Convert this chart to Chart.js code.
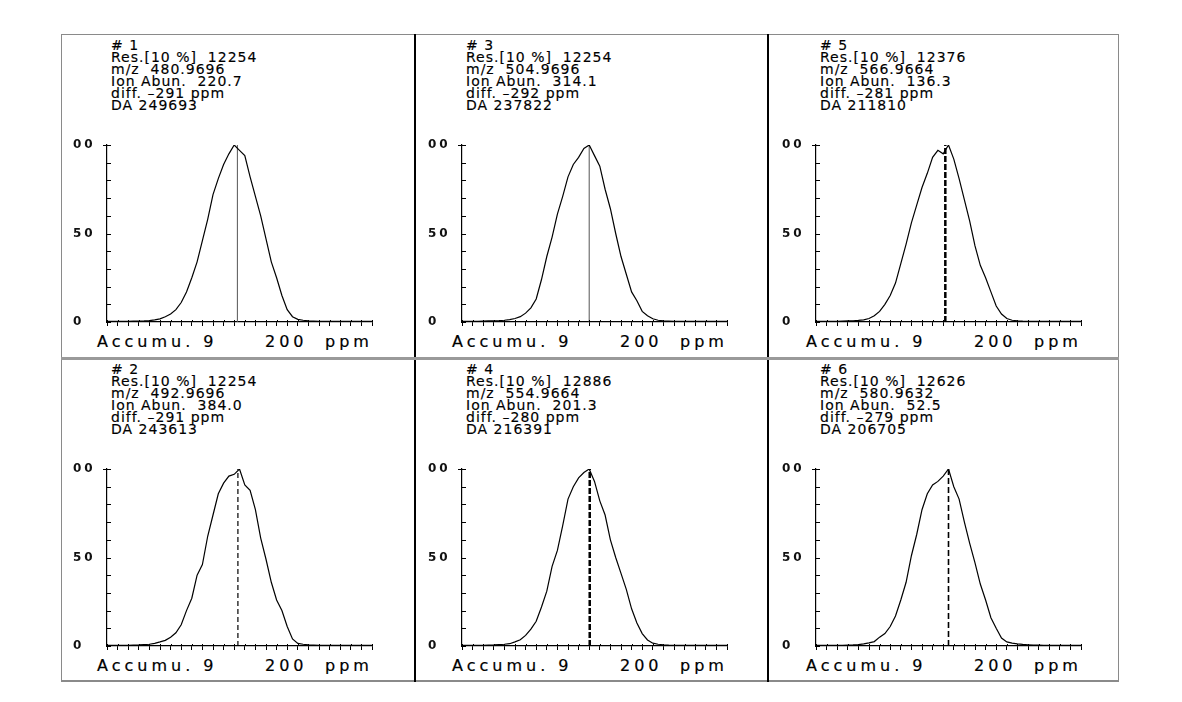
<!DOCTYPE html>
<html>
<head>
<meta charset="utf-8">
<script src="https://cdn.jsdelivr.net/npm/chart.js@4.4.0/dist/chart.umd.min.js"></script>
<style>
  html, body { margin: 0; padding: 0; background: #fff; }
  body { width: 1182px; height: 702px; position: relative; overflow: hidden; font-family: "DejaVu Sans", sans-serif; color: #000; }
  #frame { position: absolute; left: 61px; top: 34px; width: 1058px; height: 648px; box-sizing: border-box;
           border: 1px solid #8a8a8a; border-bottom: 2px solid #8a8a8a; }
  .vdiv { position: absolute; top: 34px; width: 2px; height: 648px; background: #000; }
  .hdiv { position: absolute; left: 61px; top: 357px; width: 1058px; height: 3px; background: #9a9a9a; }
  .line { position: absolute; font-size: 14px; letter-spacing: 1px; line-height: 14px; white-space: pre; -webkit-text-stroke: 0.15px #000; }
  .foot { position: absolute; font-size: 16px; letter-spacing: 4px; line-height: 18px; white-space: pre; -webkit-text-stroke: 0.2px #000; }
  canvas { position: absolute; }
</style>
</head>
<body>
<div id="frame"></div>
<div class="vdiv" style="left:414px"></div>
<div class="vdiv" style="left:767px"></div>
<div class="hdiv"></div>

<script>
// ===== Data (panels #1 .. #6) =====
const xPpm = [-250, -240, -230, -220, -210, -200, -190, -180, -170, -160, -150, -140, -130, -120, -110, -100,
  -90, -80, -70, -60, -50, -40, -30, -20, -10, 0, 10, 20, 30, 40, 50, 60, 70, 80, 90, 100, 110, 120, 130,
  140, 150, 160, 170, 180, 190, 200, 210, 220, 230, 240, 250];

const xTicks = [-250, -230, -210, -190, -170, -150, -130, -110, -90, -70, -50, -30, -10, 10, 30, 50, 70, 90,
  110, 130, 150, 170, 190, 210, 230, 250];
const yTicks = [0, 10, 20, 30, 40, 50, 60, 70, 80, 90, 100];
const yLabels = ['0', '', '', '', '', '50', '', '', '', '', '00'];

const abun1 = [0.3, 0.3, 0.3, 0.4, 0.4, 0.5, 0.5, 0.6, 0.8, 1.2, 1.8, 3, 4.5, 7, 11, 17, 25, 34, 46, 58, 72, 81, 89, 95,
  100, 97, 94, 82, 71, 60, 47, 34, 25, 15, 7, 3, 1.5, 1, 0.6, 0.5, 0.4, 0.3, 0.3, 0.3, 0.3, 0.3, 0.3, 0.3, 0.3, 0.3, 0.3];
const abun2 = [0.3, 0.3, 0.3, 0.3, 0.4, 0.5, 0.6, 0.8, 1, 1.5, 2.3, 3.2, 5, 7.5, 12, 20, 27, 40, 46, 62, 74, 86, 92, 96,
  97, 100, 91, 88, 77, 61, 49, 36, 26, 20, 11, 4, 1.5, 1, 0.6, 0.5, 0.4, 0.3, 0.3, 0.3, 0.3, 0.3, 0.3, 0.3, 0.3, 0.3, 0.3];
const abun3 = [0.3, 0.3, 0.4, 0.4, 0.5, 0.6, 0.7, 0.8, 1.0, 1.3, 2, 3, 5, 8, 13, 24, 37, 48, 61, 71, 82, 89, 93, 98,
  100, 94, 88, 75, 64, 50, 37, 27, 17, 12, 6, 3.5, 1.8, 1, 0.6, 0.5, 0.4, 0.4, 0.3, 0.3, 0.3, 0.3, 0.3, 0.3, 0.3, 0.3, 0.3];
const abun4 = [0.3, 0.3, 0.3, 0.4, 0.4, 0.5, 0.6, 0.8, 1.0, 1.3, 2.3, 3.5, 6, 9.5, 14, 22, 31, 45, 54, 68, 83, 90, 95, 98,
  100, 93, 82, 74, 60, 50, 41, 32, 21, 13, 7, 3.4, 1.6, 1, 0.7, 0.5, 0.4, 0.4, 0.3, 0.3, 0.3, 0.3, 0.3, 0.3, 0.3, 0.3, 0.3];
const abun5 = [0.3, 0.3, 0.3, 0.4, 0.4, 0.5, 0.6, 0.7, 0.9, 1.2, 2, 3.5, 6, 10, 15, 22, 33, 44, 56, 66, 76, 84, 93, 97,
  95, 100, 92, 81, 69, 57, 43, 32, 25, 17, 9, 4.5, 2, 1, 0.7, 0.5, 0.4, 0.4, 0.3, 0.3, 0.3, 0.3, 0.3, 0.3, 0.3, 0.3, 0.3];
const abun6 = [0.3, 0.3, 0.3, 0.3, 0.4, 0.4, 0.5, 0.6, 0.8, 1.2, 1.8, 2.5, 5, 7, 11, 17, 26, 36, 51, 63, 77, 86, 91, 93,
  96, 100, 90, 83, 70, 58, 47, 35, 26, 16, 10, 4.5, 2.3, 1.6, 1.2, 0.9, 0.7, 0.5, 0.5, 0.4, 0.4, 0.4, 0.3, 0.3, 0.3, 0.3, 0.3];

const markerPpm = [-4, -3, -10, -9, -6, 0];

const resValues = ['12254', '12254', '12254', '12886', '12376', '12626'];
const mzValues = ['480.9696', '492.9696', '504.9696', '554.9664', '566.9664', '580.9632'];
const ionAbun = ['220.7', '384.0', '314.1', '201.3', '136.3', '52.5'];
const diffPpm = ['–291', '–291', '–292', '–280', '–281', '–279'];
const daValues = ['249693', '243613', '237822', '216391', '211810', '206705'];
const accumu = 9;
const spanPpm = 200;

const series = [abun1, abun2, abun3, abun4, abun5, abun6];

// ===== Layout =====
const axisX = [107, 462, 816];
const panelTop = [34, 358];
const yScaleW = 34;
const markerStyle = [
  { color: '#555', width: 1, dash: [] },
  { color: '#000', width: 1.2, dash: [5, 3] },
  { color: '#555', width: 1, dash: [] },
  { color: '#000', width: 2.5, dash: [6, 2] },
  { color: '#000', width: 2.5, dash: [6, 2] },
  { color: '#000', width: 1.6, dash: [6, 3] }
];

// ticks on the inside of the y axis, small stubs above the x axis, spaced labels
const axisTicks = {
  id: 'axisTicks',
  beforeDraw(chart) { chart.ctx.letterSpacing = '3px'; },
  afterDraw(chart) {
    const y = chart.scales.y, x = chart.scales.x, ctx = chart.ctx, area = chart.chartArea;
    ctx.save();
    ctx.letterSpacing = '0px';
    ctx.strokeStyle = '#000';
    ctx.lineWidth = 1;
    y.ticks.forEach(t => {
      const py = Math.round(y.getPixelForValue(t.value)) + 0.5;
      ctx.beginPath();
      ctx.moveTo(area.left - (t.value === 100 ? 4 : 0), py);
      ctx.lineTo(area.left + 4, py);
      ctx.stroke();
    });
    x.ticks.forEach(t => {
      const px = Math.round(x.getPixelForValue(t.value)) + 0.5;
      ctx.beginPath();
      ctx.moveTo(px, area.bottom - 2);
      ctx.lineTo(px, area.bottom);
      ctx.stroke();
    });
    ctx.restore();
  }
};

function addText(cls, text, left, top) {
  const d = document.createElement('div');
  d.className = cls;
  d.textContent = text;
  d.style.left = left + 'px';
  d.style.top = top + 'px';
  document.body.appendChild(d);
}

for (let n = 1; n <= 6; n++) {
  const i = n - 1;
  const col = Math.floor(i / 2), row = i % 2;
  const P = panelTop[row];
  const ax = axisX[col];
  const tx = ax + 4;

  // ===== Header text =====
  const lh = 12, t0 = P + 4;
  addText('line', '# ' + n, tx, t0);
  addText('line', 'Res.[10 %]  ' + resValues[i], tx, t0 + lh);
  addText('line', 'm/z  ' + mzValues[i], tx, t0 + 2 * lh);
  addText('line', 'Ion Abun.  ' + ionAbun[i], tx, t0 + 3 * lh);
  addText('line', 'diff. ' + diffPpm[i] + ' ppm', tx, t0 + 4 * lh);
  addText('line', 'DA ' + daValues[i], tx, t0 + 5 * lh);

  // ===== Footer =====
  addText('foot', 'Accumu. ' + accumu, ax - 10, P + 299);
  addText('foot', String(spanPpm), ax + 158, P + 299);
  addText('foot', 'ppm', ax + 218, P + 299);

  // ===== Chart =====
  const cv = document.createElement('canvas');
  cv.width = yScaleW + 265 + 8; cv.height = 195;
  cv.style.left = (ax - yScaleW) + 'px';
  cv.style.top = (P + 101) + 'px';
  document.body.appendChild(cv);

  const pts = xPpm.map((x, k) => ({ x: x, y: series[i][k] }));
  const ms = markerStyle[i];

  new Chart(cv, {
    type: 'line',
    data: {
      datasets: [
        { data: pts, borderColor: '#000', borderWidth: 1.2, pointRadius: 0, tension: 0, fill: false },
        { data: [{ x: markerPpm[i], y: 0 }, { x: markerPpm[i], y: 100 }], borderColor: ms.color,
          borderWidth: ms.width, borderDash: ms.dash, pointRadius: 0, fill: false }
      ]
    },
    options: {
      responsive: false,
      animation: false,
      devicePixelRatio: 1,
      layout: { padding: { top: 10, right: 8, left: 0, bottom: 0 } },
      plugins: { legend: { display: false }, tooltip: { enabled: false } },
      scales: {
        x: {
          type: 'linear', min: -250, max: 250,
          afterFit: s => { s.height = 8; },
          afterBuildTicks: s => { s.ticks = xTicks.map(v => ({ value: v })); },
          ticks: { display: false },
          grid: { drawOnChartArea: false, drawTicks: true, tickLength: 4, color: '#000', lineWidth: 1 },
          border: { display: true, color: '#000', width: 1.2 }
        },
        y: {
          type: 'linear', min: 0, max: 100,
          afterFit: s => { s.width = yScaleW; },
          afterBuildTicks: s => { s.ticks = yTicks.map(v => ({ value: v })); },
          ticks: {
            autoSkip: false, crossAlign: 'far', padding: 0, color: '#111',
            font: { family: 'DejaVu Sans', size: 12, weight: 'bold' },
            callback: v => yLabels[yTicks.indexOf(v)]
          },
          grid: { display: false },
          border: { display: true, color: '#000', width: 1.2 }
        }
      }
    },
    plugins: [axisTicks]
  });
}
</script>
</body>
</html>
